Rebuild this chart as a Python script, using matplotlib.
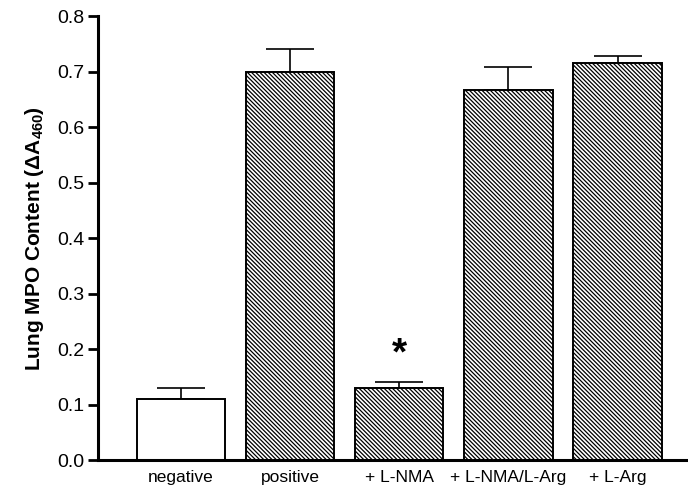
import matplotlib
matplotlib.use("Agg")
import matplotlib.pyplot as plt

plt.rcParams['font.family'] = ['Liberation Sans', 'DejaVu Sans']
plt.rcParams['mathtext.fontset'] = 'custom'
plt.rcParams['mathtext.rm'] = 'Liberation Sans'
plt.rcParams['mathtext.bf'] = 'Liberation Sans:bold'
plt.rcParams['hatch.linewidth'] = 0.9

groups = ["negative", "positive", "+ L-NMA", "+ L-NMA/L-Arg", "+ L-Arg"]
mpo = [0.11, 0.70, 0.13, 0.667, 0.716]
err = [0.02, 0.04, 0.01, 0.041, 0.012]
hatched = [False, True, True, True, True]

fig = plt.figure(figsize=(6.88, 4.91), dpi=100)
ax = fig.add_axes([0.1424, 0.0631, 0.86, 0.904])

x = list(range(len(groups)))
for i in x:
    ax.bar(i, mpo[i], width=0.81, color="white", edgecolor="black",
           linewidth=1.4, hatch="\\\\\\\\\\\\\\\\" if hatched[i] else None, zorder=2)
ax.errorbar(x, mpo, yerr=[[0] * len(err), err], fmt="none", ecolor="black",
            elinewidth=1.2, capsize=17, capthick=1.2, zorder=1)

ax.text(2, 0.19, "*", ha="center", va="center", fontsize=28, fontweight="bold")

ax.set_xlim(-0.76, 4.66)
ax.set_ylim(0, 0.8)
ax.set_yticks([0.0, 0.1, 0.2, 0.3, 0.4, 0.5, 0.6, 0.7, 0.8])
ax.set_yticklabels(["0.0", "0.1", "0.2", "0.3", "0.4", "0.5", "0.6", "0.7", "0.8"], fontsize=14)
ax.set_xticks(x)
ax.set_xticklabels(groups, fontsize=12.5)
ax.tick_params(axis="x", length=0, pad=7)
ax.tick_params(axis="y", length=7, width=2, direction="out", pad=3)
ax.spines["top"].set_visible(False)
ax.spines["right"].set_visible(False)
ax.spines["left"].set_linewidth(2.2)
ax.spines["bottom"].set_linewidth(2.2)
ax.set_ylabel(r"Lung MPO Content ($\mathbf{\Delta A_{460}}$)", fontsize=15, fontweight="bold", labelpad=8)

fig.savefig("out.png", dpi=100)
